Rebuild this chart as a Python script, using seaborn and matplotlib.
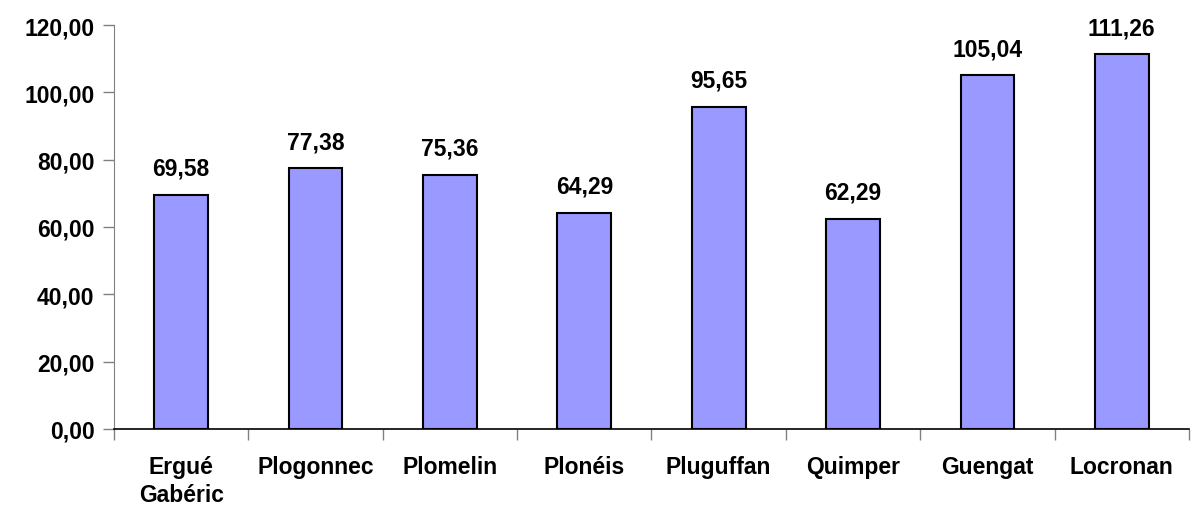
import pandas as pd
import matplotlib.pyplot as plt
import seaborn as sns

sns.set_style("white")
plt.rcParams["font.family"] = ["Liberation Sans", "DejaVu Sans"]
plt.rcParams["font.weight"] = "bold"
plt.rcParams["text.color"] = "black"
plt.rcParams["xtick.labelcolor"] = "black"
plt.rcParams["ytick.labelcolor"] = "black"

# Values
communes = ["Ergué\nGabéric", "Plogonnec", "Plomelin", "Plonéis",
            "Pluguffan", "Quimper", "Guengat", "Locronan"]
valeurs = [69.58, 77.38, 75.36, 64.29, 95.65, 62.29, 105.04, 111.26]
yticks = [0, 20, 40, 60, 80, 100, 120]

df = pd.DataFrame({"Commune": communes, "Valeur": valeurs})

fig = plt.figure(figsize=(11.93, 5.10), dpi=100)
ax = fig.add_axes([0.0956, 0.157, 0.901, 0.792])

sns.barplot(data=df, x="Commune", y="Valeur", color="#9999ff",
            edgecolor="black", linewidth=1.5, width=0.4, saturation=1, ax=ax)

for i, v in enumerate(valeurs):
    ax.annotate(f"{v:.2f}".replace(".", ","), (i, v), xytext=(0, 11),
                textcoords="offset points", ha="center", va="bottom",
                fontsize=16.5, fontweight="bold", color="black")

ax.set_xlim(-0.5, len(communes) - 0.5)
ax.set_ylim(0, 120)
ax.set_yticks(yticks)
ax.set_yticklabels([f"{t:.2f}".replace(".", ",") for t in yticks],
                   fontsize=16.5, fontweight="bold")
ax.set_xticks(range(len(communes)))
ax.set_xticklabels(communes, fontsize=16.5, fontweight="bold", linespacing=1.25)
ax.set_xticks([i - 0.5 for i in range(len(communes) + 1)], minor=True)
ax.tick_params(axis="x", which="major", length=0, pad=19)
ax.tick_params(axis="x", which="minor", length=8, width=1, color="#808080",
               direction="out", bottom=True)
ax.tick_params(axis="y", length=8, width=1, color="#808080", direction="out",
               left=True, pad=6)
ax.set_xlabel("")
ax.set_ylabel("")

for s in ["top", "right"]:
    ax.spines[s].set_visible(False)
ax.spines["left"].set_color("#808080")
ax.spines["bottom"].set_color("black")
ax.spines["bottom"].set_linewidth(1.2)

plt.savefig("out.png", dpi=100)
